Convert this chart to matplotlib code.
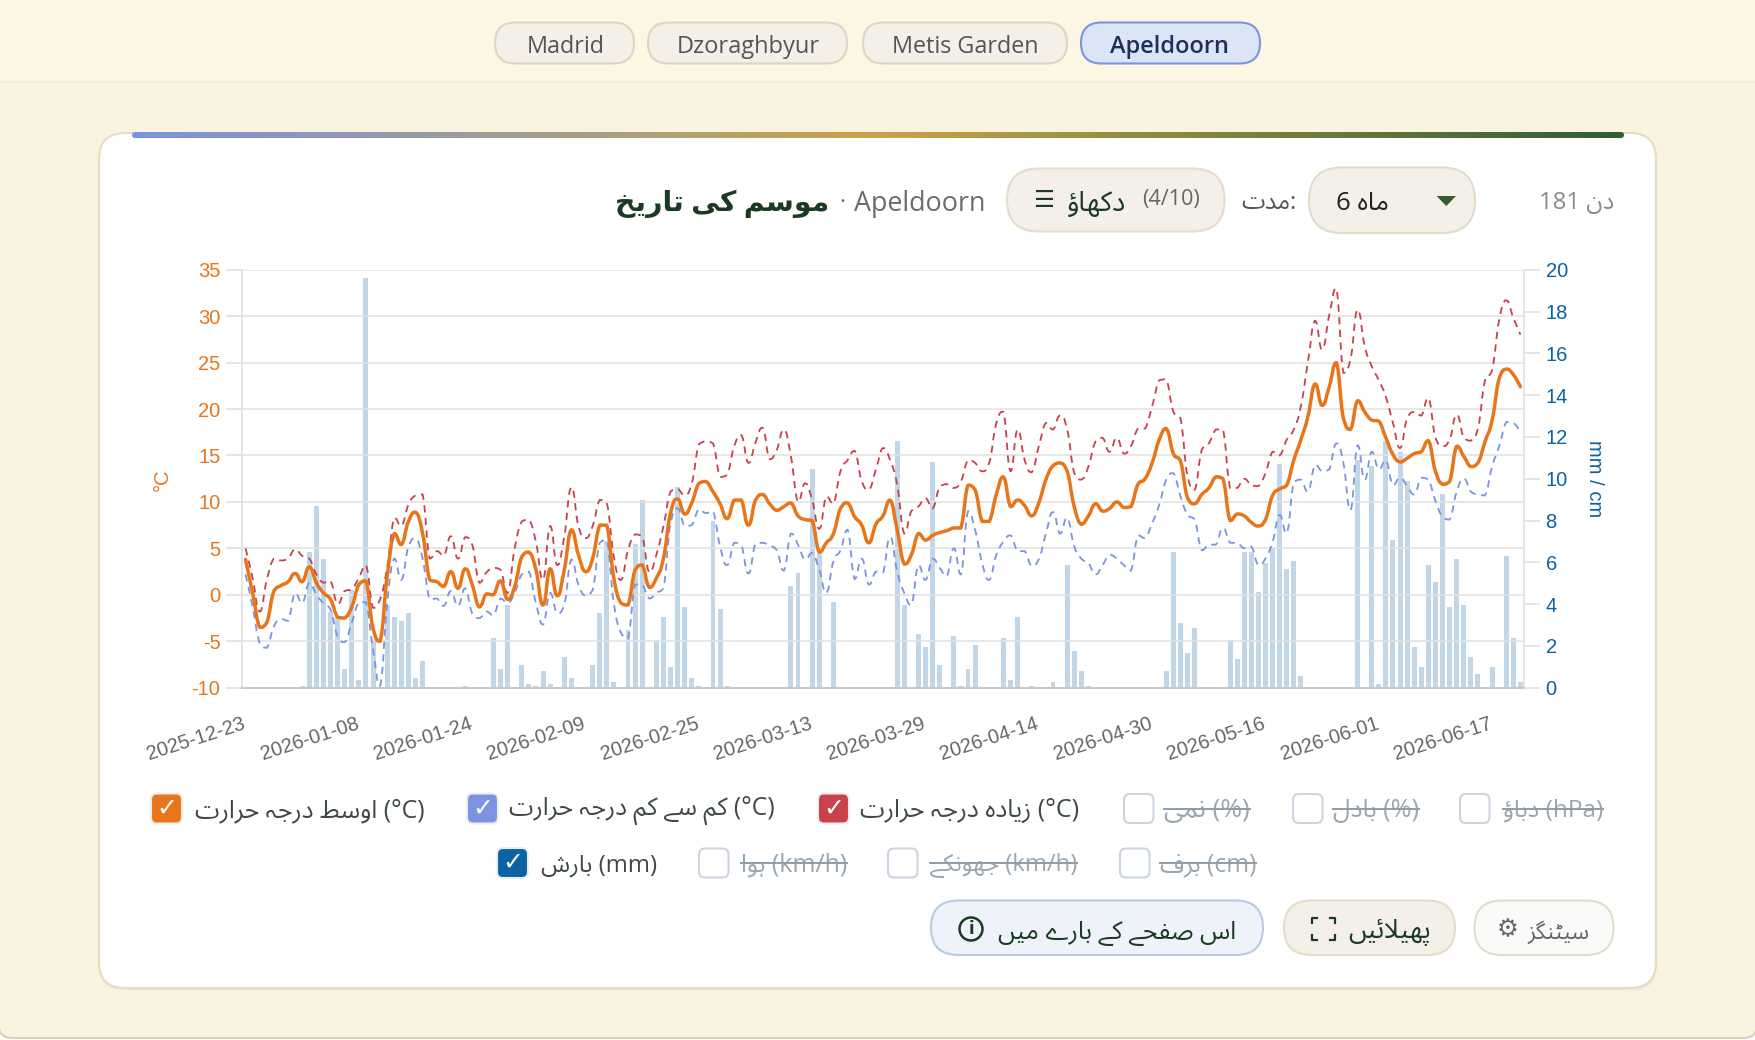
import numpy as np
import pandas as pd
import matplotlib
matplotlib.use("Agg")
import matplotlib.pyplot as plt
from matplotlib.patches import FancyBboxPatch, PathPatch, Circle
from matplotlib.path import Path
from matplotlib.colors import LinearSegmentedColormap
from matplotlib.transforms import ScaledTranslation

plt.rcParams["axes.unicode_minus"] = False

# daily values
dates = pd.date_range("2025-12-23", periods=181).strftime("%Y-%m-%d").tolist()

temp_avg = [3.8,0.2,-3.5,-3.0,0.4,1.0,1.4,2.3,1.4,3.0,
            1.3,0.2,-0.5,-2.4,-2.5,-1.3,1.1,1.5,-3.6,-5.0,
            2.0,6.6,5.4,7.9,8.9,6.6,1.6,1.4,0.9,2.5,
            0.7,2.8,1.1,-1.3,0.1,0.0,1.5,-0.5,0.9,4.1,
            4.6,2.7,-1.1,2.8,-0.1,2.7,7.0,4.3,2.5,3.9,
            7.5,7.5,1.8,-0.9,-1.1,2.7,3.2,0.8,1.8,3.9,
            8.8,10.3,8.7,9.9,12.0,12.2,11.1,9.8,8.2,10.2,
            10.2,7.5,10.2,10.8,9.8,9.1,9.5,9.9,8.5,8.1,
            8.0,4.6,5.6,6.6,9.3,9.9,8.4,7.5,5.6,7.6,
            8.5,10.2,7.0,3.3,4.3,6.6,5.9,6.4,6.7,6.9,
            7.2,7.2,11.8,11.3,7.9,7.9,10.8,12.7,9.5,10.2,
            9.6,8.5,9.9,12.4,13.9,14.2,13.3,9.5,7.6,8.5,
            9.8,9.0,9.3,10.0,9.4,9.5,11.9,12.5,14.2,16.7,
            17.9,15.2,14.4,10.4,9.8,10.8,11.5,12.7,12.5,8.0,
            8.7,8.5,7.8,7.4,8.1,10.7,11.4,11.8,14.5,16.7,
            19.2,22.7,20.4,22.4,25.0,19.0,17.8,20.9,19.7,18.8,
            18.7,16.9,15.1,14.3,14.7,15.2,15.4,16.6,13.3,11.9,
            12.2,16.0,14.9,13.8,14.2,16.5,18.8,23.3,24.3,23.7,22.4]

temp_max = [5.0,1.8,-1.8,1.6,3.9,3.7,3.9,4.9,4.2,3.9,
            2.2,1.3,1.5,-1.0,0.4,0.6,1.8,3.2,-1.4,-0.5,
            3.0,8.3,7.4,9.7,10.7,10.8,3.9,4.7,4.2,6.3,
            3.9,6.2,5.4,1.3,2.4,2.9,2.7,0.2,5.0,7.9,
            8.1,5.7,1.6,7.4,3.2,6.3,11.6,7.4,6.1,7.4,
            10.2,9.9,4.1,1.6,4.8,6.5,6.3,2.4,4.3,7.4,
            11.1,11.4,10.7,12.0,16.2,16.5,16.3,12.7,12.9,16.0,
            17.2,14.2,16.4,18.0,14.6,15.6,17.8,14.9,10.0,12.0,
            10.2,7.1,10.6,9.8,13.3,14.5,15.5,12.2,11.3,13.5,
            15.8,14.5,11.8,6.6,9.0,9.5,10.4,9.3,11.6,11.9,
            11.5,12.2,14.5,14.2,13.3,14.2,18.5,19.7,13.3,17.8,
            14.5,13.2,16.0,18.5,17.8,19.3,17.8,13.1,12.4,13.8,
            16.5,16.9,15.4,16.9,15.2,16.0,17.9,17.9,20.3,23.1,
            23.2,19.7,19.0,12.7,11.3,15.6,16.3,17.8,17.8,11.5,
            11.5,12.5,11.8,11.7,13.1,15.4,15.0,16.7,17.8,20.3,
            25.1,29.5,26.4,30.1,33.0,23.9,25.3,30.7,26.8,24.6,
            23.1,21.3,18.5,15.8,19.0,19.7,19.3,21.2,16.9,16.0,
            16.7,19.4,16.9,16.6,17.9,23.1,24.2,29.6,31.7,29.8,28.0]

temp_min = [2.2,-1.3,-5.2,-5.7,-3.4,-2.6,-2.8,0.2,-0.9,1.3,
            0.0,-0.9,-1.6,-4.5,-5.1,-3.0,-0.8,-0.8,-5.9,-9.8,
            -0.9,3.9,1.6,5.2,6.1,3.9,-0.5,-0.4,-1.2,0.4,
            -1.2,0.7,-2.0,-2.5,-1.8,-2.2,-0.4,-0.9,0.2,2.2,
            2.5,-0.9,-3.2,0.2,-2.0,-1.1,3.8,1.1,-0.1,0.5,
            5.6,5.9,-0.9,-4.1,-4.7,1.1,1.1,-0.4,0.2,0.7,
            7.7,9.3,7.4,7.5,9.2,8.8,9.0,5.2,3.2,5.6,
            5.3,2.3,5.5,5.6,5.3,4.8,2.6,6.6,5.4,3.8,
            4.5,2.7,0.2,3.6,4.8,7.0,1.7,3.9,1.1,2.5,
            2.4,6.2,2.5,0.2,-1.1,3.2,1.6,3.9,2.9,2.0,
            5.0,2.2,9.0,7.0,3.4,1.6,4.3,5.7,6.4,4.7,
            4.7,3.1,3.8,6.6,8.9,6.6,8.3,5.2,3.9,3.4,
            2.2,3.2,4.3,3.9,3.2,2.6,6.4,6.1,7.7,9.7,
            12.4,13.1,10.6,8.6,8.1,4.8,5.4,5.4,7.2,5.6,
            5.6,5.0,5.2,3.2,3.9,5.7,8.6,6.6,12.1,12.4,
            11.1,14.0,13.3,13.5,16.3,14.2,9.1,16.1,12.4,15.4,
            13.5,14.5,11.8,12.6,11.7,10.8,12.6,12.4,10.1,8.4,
            8.1,11.1,12.5,11.1,10.8,10.7,13.8,16.0,18.6,18.5,17.6]

# precipitation: day index -> mm, everything else is zero
rain_days = [8,9,10,11,12,13,14,15,16,17,18,20,21,22,23,24,25,31,35,36,37,39,40,41,42,43,
             45,46,49,50,51,52,54,55,56,58,59,60,61,62,63,64,66,67,68,77,78,80,81,83,
             92,93,95,96,97,98,100,101,102,103,107,108,109,111,114,116,117,118,119,
             130,131,132,133,134,139,140,141,142,143,144,145,146,147,148,149,
             157,159,160,161,162,163,164,165,166,167,168,169,170,171,172,173,174,176,178,179,180]
rain_mm = [0.08,6.5,8.68,6.16,3.6,3.4,0.88,4.67,0.37,19.6,2.3,3.95,3.37,3.17,3.56,0.46,1.26,0.08,2.38,0.88,3.95,1.07,0.18,0.08,0.78,0.18,
           1.47,0.46,1.07,3.57,7.0,0.25,2.76,6.87,8.98,2.26,3.37,0.97,9.59,3.86,0.46,0.08,7.99,3.76,0.08,4.88,5.49,10.48,6.5,4.08,
           11.79,3.96,2.57,1.96,10.78,1.07,2.47,0.08,0.88,2.06,2.38,0.37,3.37,0.08,0.27,5.87,1.77,0.78,0.08,
           0.78,6.49,3.08,1.67,2.87,2.28,1.37,6.49,6.49,4.58,5.96,6.67,10.69,5.68,6.06,0.57,
           10.89,10.59,0.18,11.79,7.07,11.28,9.89,1.96,0.97,5.87,5.07,9.27,3.86,6.16,3.96,1.47,0.67,0.97,6.28,2.38,0.27]

cities = ["Madrid", "Dzoraghbyur", "Metis Garden", "Apeldoorn"]
legend_row1 = [("اوسط درجہ حرارت", "(°C)"), ("کم سے کم درجہ حرارت", "(°C)"), ("زیادہ درجہ حرارت", "(°C)"),
               ("نمی", "(%)"), ("بادل", "(%)"), ("دباؤ", "(hPa)")]
legend_row2 = [("بارش", "(mm)"), ("ہوا", "(km/h)"), ("جھونکے", "(km/h)"), ("برف", "(cm)")]

ORANGE = "#E8751A"
RED = "#C9414A"
BLUE = "#7B93E0"
NAVY = "#0B62A4"
PAPER = "#FAF3E0"
PILL = "#F4F0E8"
PILL_EDGE = "#E3DCCA"
DARK = "#1B3A24"

# matplotlib has no arabic shaping, so map to presentation forms and reverse
FORMS = {
    "ا": (0xFE8D, 0xFE8E), "د": (0xFEA9, 0xFEAA), "ر": (0xFEAD, 0xFEAE), "ز": (0xFEAF, 0xFEB0),
    "و": (0xFEED, 0xFEEE), "ؤ": (0xFE85, 0xFE86), "ے": (0xFBAE, 0xFBAF),
    "ں": (0xFB9E, 0xFB9F, 0xFB9E, 0xFB9F),
    "ب": (0xFE8F, 0xFE90, 0xFE91, 0xFE92), "پ": (0xFB56, 0xFB57, 0xFB58, 0xFB59),
    "ت": (0xFE95, 0xFE96, 0xFE97, 0xFE98), "ٹ": (0xFB66, 0xFB67, 0xFB68, 0xFB69),
    "ج": (0xFE9D, 0xFE9E, 0xFE9F, 0xFEA0), "ح": (0xFEA1, 0xFEA2, 0xFEA3, 0xFEA4),
    "خ": (0xFEA5, 0xFEA6, 0xFEA7, 0xFEA8), "س": (0xFEB1, 0xFEB2, 0xFEB3, 0xFEB4),
    "ش": (0xFEB5, 0xFEB6, 0xFEB7, 0xFEB8), "ص": (0xFEB9, 0xFEBA, 0xFEBB, 0xFEBC),
    "ط": (0xFEC1, 0xFEC2, 0xFEC3, 0xFEC4), "ف": (0xFED1, 0xFED2, 0xFED3, 0xFED4),
    "ک": (0xFB8E, 0xFB8F, 0xFB90, 0xFB91), "گ": (0xFB92, 0xFB93, 0xFB94, 0xFB95),
    "ل": (0xFEDD, 0xFEDE, 0xFEDF, 0xFEE0),
    "م": (0xFEE1, 0xFEE2, 0xFEE3, 0xFEE4), "ن": (0xFEE5, 0xFEE6, 0xFEE7, 0xFEE8),
    "ھ": (0xFBAA, 0xFBAB, 0xFBAC, 0xFBAD), "ہ": (0xFBA6, 0xFBA7, 0xFBA8, 0xFBA9),
    "ی": (0xFBFC, 0xFBFD, 0xFBFE, 0xFBFF), "ئ": (0xFE89, 0xFE8A, 0xFE8B, 0xFE8C),
}


def ar(text):
    out = []
    i = 0
    while i < len(text):
        c = text[i]
        if c not in FORMS:
            out.append(c)
            i += 1
            continue
        prev = text[i - 1] if i else " "
        joined = prev in FORMS and len(FORMS[prev]) == 4
        if c == "ل" and text[i + 1:i + 2] == "ا":
            out.append(chr(0xFEFC if joined else 0xFEFB))
            i += 2
            continue
        nxt = text[i + 1] if i + 1 < len(text) else " "
        forms = FORMS[c]
        if len(forms) == 2:
            out.append(chr(forms[1] if joined else forms[0]))
        elif nxt in FORMS:
            out.append(chr(forms[3] if joined else forms[2]))
        else:
            out.append(chr(forms[1] if joined else forms[0]))
        i += 1
    return "".join(reversed(out))


fig = plt.figure(figsize=(17.56, 10.4), dpi=100, facecolor="white")
ui = fig.add_axes([0, 0, 1, 1], zorder=0)
ui.set_xlim(0, 1756)
ui.set_ylim(1040, 0)
ui.axis("off")
renderer = fig.canvas.get_renderer()
UI_FONT = ["Open Sans", "Noto Sans Arabic", "DejaVu Sans"]
BOLD_FONT = ["Open Sans", "DejaVu Sans"]


def box(x0, y0, x1, y1, fc, ec, r=None, lw=1.5, z=2):
    r = (y1 - y0) / 2 if r is None else r
    p = FancyBboxPatch((x0, y0), x1 - x0, y1 - y0, boxstyle=f"round,pad=0,rounding_size={r}",
                       fc=fc, ec=ec, lw=lw, zorder=z)
    ui.add_patch(p)
    return p


def label(x0, x1, yc, s, color, weight="normal", z=5, family=UI_FONT):
    # size is fitted so the text spans x0..x1 like in the reference
    t = ui.text((x0 + x1) / 2, yc, s, color=color, ha="center", va="center", family=family,
                weight=weight, fontsize=16, zorder=z)
    w = t.get_window_extent(renderer).width
    t.set_fontsize(16 * (x1 - x0) / w)
    return t


# page with rounded bottom corners, then the header band
box(-1.5, -40, 1757.5, 1038, PAPER, "#DDD3BC", r=14, lw=1.6, z=1)
ui.fill_between([0, 1756], 0, 82, color="#FDF6E3", lw=0, zorder=1.5)
ui.plot([0, 1756], [82, 82], color="#F3ECDB", lw=1.2, zorder=1.5)

pill_spans = [(495, 634), (648, 847), (863, 1067), (1081, 1260)]
text_spans = [(527, 605), (677, 820), (892, 1039), (1110, 1230)]
for k, city in enumerate(cities):
    active = city == "Apeldoorn"
    box(pill_spans[k][0], 22.5, pill_spans[k][1], 63.5, "#DCE5F5" if active else PILL,
        BLUE if active else "#DDD6C5")
    label(text_spans[k][0], text_spans[k][1], 47, city, "#1E2F5C" if active else "#555555",
          "semibold" if active else "normal")

# card with shadow and gradient strip
box(99, 135, 1657, 990.5, "#EFE8D6", "none", r=26, lw=0, z=2)
box(99, 133, 1656, 988, "white", "#E4DCC8", r=26, lw=1.5, z=2)
strip_cm = LinearSegmentedColormap.from_list("strip", [BLUE, "#C9A548", "#2F5D34"])
im = ui.imshow(np.linspace(0, 1, 512)[None, :], cmap=strip_cm, extent=(132, 1624, 138, 132),
               aspect="auto", zorder=3)
clip = FancyBboxPatch((132, 132), 1492, 6, boxstyle="round,pad=0,rounding_size=3", fc="none", ec="none",
                      transform=ui.transData)
ui.add_patch(clip)
im.set_clip_path(clip)
ui.set_xlim(0, 1756)
ui.set_ylim(1040, 0)

# title row
label(615, 830, 204, ar("موسم کی تاریخ"), DARK, "bold", family=BOLD_FONT)
ui.text(842, 203, "·", color="#6B6B6B", ha="center", va="center", fontsize=16, family=UI_FONT, zorder=5)
label(854, 986, 204, "Apeldoorn", "#6B6B6B")
box(1007, 168.5, 1224.5, 231.5, PILL, PILL_EDGE)
label(1033, 1054, 201, "☰", DARK)
label(1067, 1126, 204, ar("دکھاؤ"), DARK)
label(1142, 1200, 199, "(4/10)", "#666666")
label(1241, 1296, 203, ar("مدت") + ":", "#555555")
box(1309, 167.5, 1475, 233, PILL, PILL_EDGE)
label(1336, 1389, 203, "6 " + ar("ماہ"), "#222222")
ui.fill([1436.6, 1456, 1446.3], [196, 196, 206], color="#2F5D34", lw=0, zorder=5)
label(1539, 1614, 203, "181 " + ar("دن"), "#8A8A8A")

# legend rows
checks_row1 = [(151, ORANGE), (467, BLUE), (818, RED), (1124, None), (1293, None), (1460, None)]
spans_row1 = [(195, 425), (509, 775), (860, 1080), (1164, 1250), (1333, 1419), (1503, 1603)]
checks_row2 = [(497, NAVY), (699, None), (888, None), (1120, None)]
spans_row2 = [(541, 657), (741, 847), (930, 1077), (1160, 1256)]
rows = [(legend_row1, checks_row1, spans_row1, 808.5), (legend_row2, checks_row2, spans_row2, 863)]
for names, checks, spans, yc in rows:
    for (name, unit), (cx, col), (x0, x1) in zip(names, checks, spans):
        if col:
            box(cx, yc - 15, cx + 31, yc + 15, col, "#EDEDED", r=6, lw=1.5, z=4)
            ui.text(cx + 15.5, yc, "✓", color="white", ha="center", va="center", fontsize=18,
                    weight="bold", family="DejaVu Sans", zorder=5)
            label(x0, x1, yc + 2, ar(name) + " " + unit, "#3F4A42")
        else:
            box(cx, yc - 14.5, cx + 29.5, yc + 14.5, "white", "#CBD5E1", r=6, lw=1.5, z=4)
            label(x0, x1, yc + 2, ar(name) + " " + unit, "#9AA7B0")
            ui.plot([x0, x1], [yc, yc], color="#8F9CA5", lw=1.4, zorder=6)

# buttons
box(931, 900.5, 1263, 955, "#EDF2FB", "#B9CAE3")
ui.add_patch(Circle((971, 929), 11.5, fc="none", ec=DARK, lw=1.8, zorder=5))
ui.text(971, 929, "i", color=DARK, ha="center", va="center", fontsize=12, weight="bold",
        family="DejaVu Sans", zorder=5)
label(998, 1237, 933, ar("اس صفحے کے بارے میں"), DARK)
box(1284, 900.5, 1455, 955, PILL, PILL_EDGE)
for x_out, x_in in [(1312, 1317), (1335, 1330)]:
    ui.plot([x_in, x_out, x_out], [918, 918, 923], color=DARK, lw=1.6, zorder=5)
    ui.plot([x_in, x_out, x_out], [940, 940, 935], color=DARK, lw=1.6, zorder=5)
label(1348, 1431, 933, ar("پھیلائیں"), DARK)
box(1474.5, 900.5, 1613.5, 955, "#FAFAF8", PILL_EDGE)
label(1497, 1519, 930, "⚙", "#666666")
label(1528, 1590, 932, ar("سیٹنگز"), "#666666")

# chart
W, H = 1756.0, 1040.0
rect = [242 / W, 1 - 687.7 / H, (1524 - 242) / W, (687.7 - 269.7) / H]
ax_mm = fig.add_axes(rect, zorder=1, facecolor="none")
ax = fig.add_axes(rect, zorder=2, facecolor="none")
x = np.arange(len(dates))

ax_mm.bar(rain_days, rain_mm, width=0.7, color=NAVY, alpha=0.25, lw=0)
ax_mm.set_xlim(-0.5, 180.5)
ax_mm.set_ylim(0, 20)
ax_mm.set_yticks(range(0, 21, 2))
ax_mm.yaxis.tick_right()
ax_mm.set_xticks([])
ax_mm.tick_params(axis="y", colors="#E0E0E0", length=11.5, width=1.2, labelcolor=NAVY, labelsize=14.5, pad=4)
for t in ax_mm.get_yticklabels():
    t.set_family("Liberation Sans")
for s in ax_mm.spines.values():
    s.set_visible(False)
ax_mm.spines["right"].set_visible(True)
ax_mm.spines["right"].set_color("#E0E0E0")
ax_mm.spines["right"].set_linewidth(1.2)


def smooth_line(axis, xs, ys, k=0.25, **kw):
    # bezier through the daily points, control points kept inside each segment so peaks don't overshoot
    p = np.column_stack([xs, ys])
    verts = [p[0]]
    codes = [Path.MOVETO]
    for i in range(len(p) - 1):
        a = p[max(i - 1, 0)]
        b = p[min(i + 2, len(p) - 1)]
        lo, hi = sorted((p[i][1], p[i + 1][1]))
        c1 = p[i] + k * (p[i + 1] - a)
        c2 = p[i + 1] - k * (b - p[i])
        c1[1] = np.clip(c1[1], lo, hi)
        c2[1] = np.clip(c2[1], lo, hi)
        verts += [c1, c2, p[i + 1]]
        codes += [Path.CURVE4] * 3
    axis.add_patch(PathPatch(Path(np.array(verts), codes), fill=False, **kw))


smooth_line(ax, x, temp_min, color=BLUE, lw=1.3, ls=(0, (4, 3)), clip_on=False, zorder=3)
smooth_line(ax, x, temp_max, color=RED, lw=1.3, ls=(0, (4, 3)), clip_on=False, zorder=3)
smooth_line(ax, x, temp_avg, color=ORANGE, lw=2.5, capstyle="round", joinstyle="round", clip_on=False, zorder=4)

ax.set_xlim(-0.5, 180.5)
ax.set_ylim(-10, 35)
ax.set_yticks(range(-10, 36, 5))
ax.grid(axis="y", color="#E3E3E3", lw=1.2)
ax.set_axisbelow(True)
ax.tick_params(axis="y", colors="#E0E0E0", length=11.5, width=1.2, labelcolor=ORANGE, labelsize=14.5, pad=4)
ax.tick_params(axis="x", length=0, labelcolor="#666666", labelsize=14.4, pad=19)
ax.set_xticks(x[::16])
ax.set_xticklabels(dates[::16], rotation=18, ha="right", rotation_mode="anchor")
nudge = ScaledTranslation(-3.5 / 100, 0, fig.dpi_scale_trans)
for t in ax.get_xticklabels():
    t.set_transform(t.get_transform() + nudge)
for t in ax.get_yticklabels() + ax.get_xticklabels():
    t.set_family("Liberation Sans")
for side in ["top", "right"]:
    ax.spines[side].set_visible(False)
ax.spines["left"].set_color("#E0E0E0")
ax.spines["left"].set_linewidth(1.2)
ax.spines["bottom"].set_color("#C8C8C8")
ax.spines["bottom"].set_linewidth(1.4)

ui.text(162, 480, "°C", color=ORANGE, rotation=90, ha="center", va="center", fontsize=14.5,
        family="Liberation Sans", zorder=5)
ui.text(1595, 479, "mm / cm", color=NAVY, rotation=-90, ha="center", va="center", fontsize=14.5,
        family="Liberation Sans", zorder=5)

fig.savefig("out.png", dpi=100, facecolor="white")
